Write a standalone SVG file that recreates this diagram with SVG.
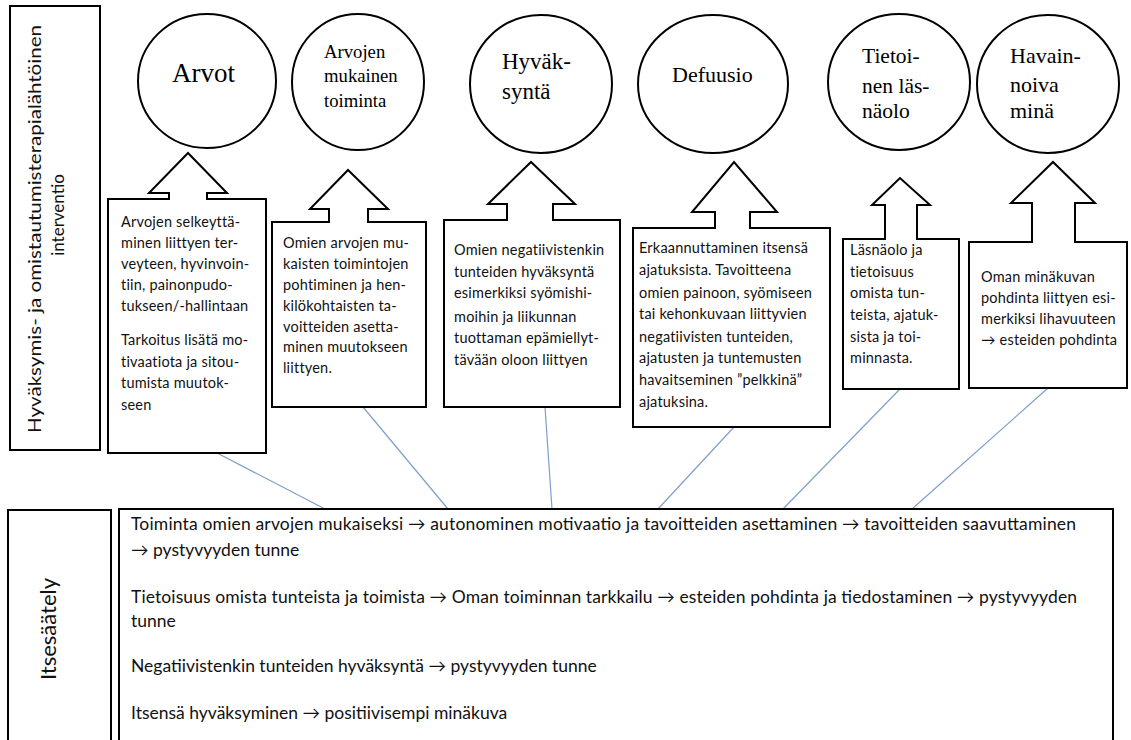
<svg xmlns="http://www.w3.org/2000/svg" width="1131" height="740" viewBox="0 0 1131 740">
<style>
.shape{fill:#fff;stroke:#000;stroke-width:2}
.circ{fill:#fff;stroke:#000;stroke-width:2}
.ct{font-family:"Liberation Serif","Times New Roman",serif;fill:#000}
.bt{font-family:"Lato","Liberation Sans",sans-serif;font-size:14.5px;letter-spacing:0.2px;fill:#111}
.lt{font-family:"Lato","Liberation Sans",sans-serif;font-size:17.5px;fill:#111}
.side{font-family:"Lato","Liberation Sans",sans-serif;fill:#111}
.conn{stroke:#7f9fc8;stroke-width:1.2;fill:none}
</style>
<rect width="1131" height="740" fill="#fff"/>
<g id="connectors">
<line class="conn" x1="217" y1="453" x2="325" y2="509"/>
<line class="conn" x1="363" y1="407" x2="448" y2="509"/>
<line class="conn" x1="545" y1="407" x2="552" y2="509"/>
<line class="conn" x1="734" y1="427" x2="658" y2="509"/>
<line class="conn" x1="900" y1="389" x2="783" y2="509"/>
<line class="conn" x1="1048" y1="388" x2="912" y2="509"/>
</g>
<g id="intervention-label">
<rect class="shape" x="10" y="6" width="90" height="444"/>
<text class="side" font-size="17" transform="translate(41,433) rotate(-90)" textLength="408" lengthAdjust="spacingAndGlyphs">Hyväksymis- ja omistautumisterapialähtöinen</text>
<text class="side" font-size="17" text-anchor="middle" transform="translate(64,215) rotate(-90)">interventio</text>
</g>
<g id="circle-arvot">
<ellipse class="circ" cx="207" cy="81" rx="69" ry="67"/>
<text class="ct" font-size="27" x="172" y="82">Arvot</text>
</g>
<g id="circle-toiminta">
<ellipse class="circ" cx="358" cy="82" rx="66" ry="68"/>
<text class="ct" font-size="18.7"><tspan x="324" y="58">Arvojen</tspan><tspan x="324" y="82">mukainen</tspan><tspan x="324" y="107">toiminta</tspan></text>
</g>
<g id="circle-hyvaksynta">
<ellipse class="circ" cx="541" cy="84" rx="71" ry="69"/>
<text class="ct" font-size="23"><tspan x="502" y="69">Hyväk-</tspan><tspan x="502" y="99">syntä</tspan></text>
</g>
<g id="circle-defuusio">
<ellipse class="circ" cx="713" cy="84" rx="75" ry="69"/>
<text class="ct" font-size="22" x="672" y="82">Defuusio</text>
</g>
<g id="circle-lasnaolo">
<ellipse class="circ" cx="899" cy="82" rx="71" ry="68"/>
<text class="ct" font-size="21.5"><tspan x="862" y="63">Tietoi-</tspan><tspan x="862" y="93">nen läs-</tspan><tspan x="862" y="118">näolo</tspan></text>
</g>
<g id="circle-mina">
<ellipse class="circ" cx="1048" cy="84" rx="71" ry="69"/>
<text class="ct" font-size="22"><tspan x="1010" y="63">Havain-</tspan><tspan x="1010" y="92">noiva</tspan><tspan x="1010" y="118">minä</tspan></text>
</g>
<g id="callout-arvot">
<path class="shape" d="M108,199 H169 V193 H149 L188,153 L227,193 H207 V199 H266 V453 H108 Z"/>
<text class="bt"><tspan x="121" y="227">Arvojen selkeyttä-</tspan><tspan x="121" y="248">minen liittyen ter-</tspan><tspan x="121" y="269">veyteen, hyvinvoin-</tspan><tspan x="121" y="290">tiin, painonpudo-</tspan><tspan x="121" y="311">tukseen/-hallintaan</tspan><tspan x="121" y="345">Tarkoitus lisätä mo-</tspan><tspan x="121" y="367">tivaatiota ja sitou-</tspan><tspan x="121" y="388">tumista muutok-</tspan><tspan x="121" y="410">seen</tspan></text>
</g>
<g id="callout-toiminta">
<path class="shape" d="M272,222 H329 V209 H310 L348,170 L388,209 H368 V222 H426 V407 H272 Z"/>
<text class="bt"><tspan x="283" y="248">Omien arvojen mu-</tspan><tspan x="283" y="269">kaisten toimintojen</tspan><tspan x="283" y="290">pohtiminen ja hen-</tspan><tspan x="283" y="311">kilökohtaisten ta-</tspan><tspan x="283" y="332">voitteiden asetta-</tspan><tspan x="283" y="352">minen muutokseen</tspan><tspan x="283" y="373">liittyen.</tspan></text>
</g>
<g id="callout-hyvaksynta">
<path class="shape" d="M444,220 H507 V204 H488 L531,162 L575,204 H553 V220 H620 V407 H444 Z"/>
<text class="bt"><tspan x="454" y="255">Omien negatiivistenkin</tspan><tspan x="454" y="277">tunteiden hyväksyntä</tspan><tspan x="454" y="298">esimerkiksi syömishi-</tspan><tspan x="454" y="322">moihin ja liikunnan</tspan><tspan x="454" y="343">tuottaman epämiellyt-</tspan><tspan x="454" y="365">tävään oloon liittyen</tspan></text>
</g>
<g id="callout-defuusio">
<path class="shape" d="M633,228 H715 V212 H692 L734,162 L777,212 H750 V228 H830 V427 H633 Z"/>
<text class="bt"><tspan x="639" y="253">Erkaannuttaminen itsensä</tspan><tspan x="639" y="275">ajatuksista. Tavoitteena</tspan><tspan x="639" y="298">omien painoon, syömiseen</tspan><tspan x="639" y="319">tai kehonkuvaan liittyvien</tspan><tspan x="639" y="342">negatiivisten tunteiden,</tspan><tspan x="639" y="363">ajatusten ja tuntemusten</tspan><tspan x="639" y="385">havaitseminen ”pelkkinä”</tspan><tspan x="639" y="407">ajatuksina.</tspan></text>
</g>
<g id="callout-lasnaolo">
<path class="shape" d="M843,239 H885 V205 H872 L900,178 L930,205 H917 V239 H959 V389 H843 Z"/>
<text class="bt"><tspan x="850" y="255">Läsnäolo ja</tspan><tspan x="850" y="277">tietoisuus</tspan><tspan x="850" y="298">omista tun-</tspan><tspan x="850" y="320">teista, ajatuk-</tspan><tspan x="850" y="342">sista ja toi-</tspan><tspan x="850" y="363">minnasta.</tspan></text>
</g>
<g id="callout-mina">
<path class="shape" d="M969,242 H1032 V203 H1011 L1053,162 L1095,203 H1075 V242 H1127 V388 H969 Z"/>
<text class="bt"><tspan x="981" y="282">Oman minäkuvan</tspan><tspan x="981" y="303">pohdinta liittyen esi-</tspan><tspan x="981" y="324">merkiksi lihavuuteen</tspan><tspan x="981" y="345">→ esteiden pohdinta</tspan></text>
</g>
<g id="itsesaately-label">
<rect class="shape" x="8" y="510" width="103" height="240"/>
<text class="side" font-size="22" text-anchor="middle" transform="translate(56,629) rotate(-90)">Itsesäätely</text>
</g>
<g id="itsesaately-box">
<rect class="shape" x="119" y="509" width="994" height="241"/>
<text class="lt">
<tspan x="131" y="530" textLength="945" lengthAdjust="spacing">Toiminta omien arvojen mukaiseksi → autonominen motivaatio ja tavoitteiden asettaminen → tavoitteiden saavuttaminen</tspan>
<tspan x="131" y="556">→ pystyvyyden tunne</tspan>
<tspan x="131" y="603" textLength="946" lengthAdjust="spacing">Tietoisuus omista tunteista ja toimista → Oman toiminnan tarkkailu → esteiden pohdinta ja tiedostaminen → pystyvyyden</tspan>
<tspan x="131" y="627">tunne</tspan>
<tspan x="131" y="672">Negatiivistenkin tunteiden hyväksyntä → pystyvyyden tunne</tspan>
<tspan x="131" y="719">Itsensä hyväksyminen → positiivisempi minäkuva</tspan>
</text>
</g>
</svg>
